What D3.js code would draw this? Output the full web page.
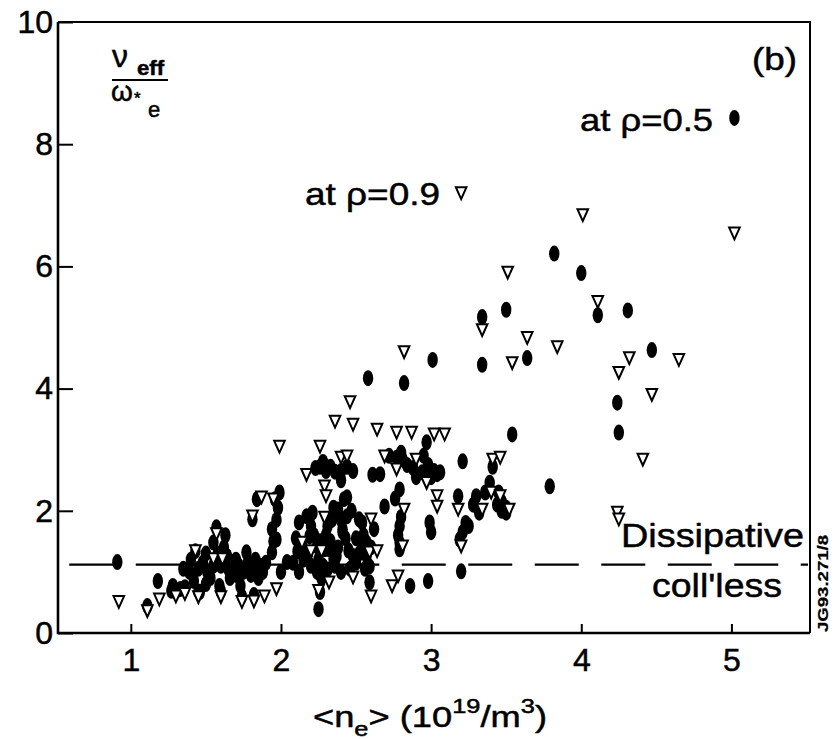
<!DOCTYPE html>
<html><head><meta charset="utf-8">
<script src="https://cdn.jsdelivr.net/npm/d3@7"></script>
<style>
body{margin:0;background:#fff}
text{font-family:"Liberation Sans",Arial,Helvetica,sans-serif;fill:#000;stroke:#000;stroke-width:0.5px}
</style>
</head><body>
<svg id="c" width="834" height="739"></svg>
<script>
// ---- data ----
const xTicks = [1, 2, 3, 4, 5];
const yTicks = [0, 2, 4, 6, 8, 10];
const xDomain = [0.515, 5.51];
const yDomain = [0, 10];
const boundaryLevel = 1.12;          // dissipative / coll'less boundary
const boundaryRange = [0.59, 5.51];

// filled dots: evaluated at rho = 0.5
const rho05 = [
[0.91,1.16],[1.11,0.44],[1.18,0.85],[1.27,0.69],[1.28,0.77],[1.33,0.72],[1.39,1.0],[1.43,1.34],
[1.46,0.67],[1.51,1.0],[1.55,1.48],[1.57,1.73],[1.59,0.77],[1.64,1.26],[1.68,1.04],[1.73,0.77],
[1.77,1.32],[1.81,1.09],[1.81,1.86],[1.84,2.19],[1.88,1.0],[1.94,1.70],[1.94,1.32],[1.96,2.19],
[1.97,1.53],[1.99,2.30],[2.04,1.16],[2.11,1.34],[2.12,1.81],[2.12,1.0],[2.17,1.91],[2.19,1.58],
[2.21,1.97],[2.24,1.42],[2.24,1.0],[2.25,0.39],[2.26,0.67],[2.26,2.72],[2.29,1.37],[2.31,1.75],
[2.31,1.04],[2.32,1.37],[2.35,1.21],[2.36,2.64],[2.37,1.26],[2.38,2.02],[2.41,1.65],[2.41,1.70],
[2.42,2.19],[2.44,2.72],[2.44,2.22],[2.44,1.91],[2.48,1.26],[2.52,1.86],[2.54,1.42],[2.54,1.81],
[2.57,1.48],[2.57,1.26],[2.58,4.17],[2.59,0.83],[2.59,1.09],[2.61,2.59],[2.69,2.07],[2.77,2.87],
[2.79,2.35],[2.79,1.75],[2.79,1.48],[2.79,1.37],[2.81,2.84],[2.82,4.09],[2.86,0.77],[2.94,2.63],
[2.97,3.12],[2.98,0.85],[2.99,1.81],[3.0,1.65],[3.01,4.47],[3.06,2.63],[3.18,2.24],[3.19,1.53],
[3.2,1.01],[3.21,2.81],[3.21,1.65],[3.3,2.24],[3.32,1.97],[3.34,5.17],[3.34,4.39],[3.39,2.46],
[3.41,2.72],[3.48,2.07],[3.5,5.29],[3.5,1.97],[3.54,3.25],[3.64,4.5],[3.79,2.40],[3.82,6.21],
[4.0,5.89],[4.11,5.2],[4.24,3.77],[4.25,3.28],[4.31,5.28],[4.47,4.63],[5.02,8.43],
[1.35,1.05],[1.42,0.85],[1.48,1.15],[1.53,0.9],[1.6,1.1],[1.66,0.9],[1.7,1.2],[1.75,1.0],
[1.5,1.3],[1.62,1.4],[1.85,0.9],[1.9,1.15],[2.0,1.0],[2.08,1.15],[2.15,1.2],[2.2,1.1],
[2.27,0.9],[2.3,1.6],[2.35,2.05],[2.4,1.0],[2.46,1.05],[2.5,1.55],[2.62,1.7],[2.66,2.6],
[2.48,2.65],[2.4,2.5],[2.3,2.65],[2.72,2.9],[2.9,2.55],[2.95,2.9],[3.0,2.55],[3.36,2.3],
[3.44,2.1],[3.47,2.0],
[1.40,1.2],[1.45,1.05],[1.50,0.8],[1.55,1.1],[1.58,1.3],[1.63,1.6],[1.65,1.05],[1.70,0.95],
[1.72,1.1],[1.78,1.15],[1.80,0.95],[1.83,1.2],[1.86,1.1],[1.95,1.5],[1.97,1.85],[1.98,2.05],
[2.10,1.55],[2.14,1.45],[2.18,1.3],[2.20,1.75],[2.22,1.6],[2.25,1.2],[2.26,1.5],[2.28,1.1],
[2.33,1.5],[2.34,1.85],[2.36,1.1],[2.38,1.4],[2.40,1.85],[2.43,1.55],[2.45,1.35],[2.47,2.0],
[2.50,1.15],[2.52,1.3],[2.55,1.6],[2.56,1.05],[2.60,1.4],[2.23,2.7],[2.28,2.8],[2.33,2.72],
[2.40,2.65],[2.80,2.95],[2.84,2.75],[2.88,2.7],[2.98,2.75],[3.02,2.65],[3.04,2.6],[2.76,2.2],
[2.78,1.6],[2.80,1.9],[3.23,1.8],[3.25,1.75],[3.28,2.1],[3.45,2.3],[3.47,2.15],[3.50,2.05],
[1.30,0.68],[1.45,0.68],[1.60,0.68],[1.74,0.6],[1.82,0.62],[1.36,0.75]
];

// open triangles: evaluated at rho = 0.9
const rho09 = [
[0.92,0.51],[1.11,0.36],[1.19,0.55],[1.30,0.60],[1.36,0.64],[1.43,1.34],[1.45,0.59],[1.55,1.21],
[1.57,1.62],[1.6,0.59],[1.61,1.21],[1.74,0.51],[1.81,1.91],[1.82,0.52],[1.87,2.22],[1.89,0.60],
[1.95,2.19],[1.97,0.72],[1.99,3.05],[2.14,1.48],[2.17,2.59],[2.2,1.34],[2.25,0.69],[2.26,3.05],
[2.27,1.34],[2.29,2.40],[2.29,1.89],[2.3,2.24],[2.32,0.83],[2.36,3.46],[2.4,2.87],[2.44,2.89],
[2.46,3.78],[2.48,3.41],[2.48,0.91],[2.59,1.32],[2.6,1.86],[2.6,0.60],[2.64,3.33],[2.64,1.34],
[2.69,2.89],[2.74,0.77],[2.77,3.28],[2.77,2.68],[2.78,0.93],[2.81,1.42],[2.82,4.6],[2.82,2.02],
[2.87,3.28],[2.9,2.84],[2.97,2.46],[3.02,3.25],[3.04,2.24],[3.04,2.07],[3.09,3.25],[3.18,2.02],
[3.2,1.42],[3.2,7.2],[3.34,4.96],[3.34,2.02],[3.4,2.3],[3.41,2.84],[3.46,2.87],[3.46,2.24],
[3.51,5.9],[3.52,2.02],[3.54,4.42],[3.64,4.83],[3.84,4.68],[4.01,6.84],[4.11,5.42],[4.24,1.97],
[4.25,4.26],[4.25,1.86],[4.32,4.5],[4.41,2.84],[4.47,3.9],[4.65,4.47],[5.02,6.54]
];

// ---- drawing ----
const svg = d3.select("#c");
const L = 58, R = 810, T = 22, B = 633;
const x = d3.scaleLinear(xDomain, [L, 808]);
const y = d3.scaleLinear(yDomain, [B, T]);

// frame
svg.append("path").attr("d", `M${L},${T}L${R},${T}L${R},${B}`)
  .attr("fill","none").attr("stroke","#000").attr("stroke-width",2);
svg.append("path").attr("d", `M${L},${T}L${L},${B}L${R},${B}`)
  .attr("fill","none").attr("stroke","#000").attr("stroke-width",2.6);

// axes
const gx = svg.append("g").attr("transform",`translate(0,${B})`)
  .call(d3.axisBottom(x).tickValues(xTicks).tickSizeInner(-9).tickSizeOuter(0)
        .tickPadding(15).tickFormat(d3.format("d")));
gx.select(".domain").remove();
gx.selectAll("line").attr("stroke-width",2);
gx.selectAll("text").attr("font-size",32).attr("font-family","Liberation Sans, Arial, sans-serif");

const gy = svg.append("g").attr("transform",`translate(${L},0)`)
  .call(d3.axisLeft(y).tickValues(yTicks).tickSizeInner(-15).tickSizeOuter(0)
        .tickPadding(5).tickFormat(d3.format("d")));
gy.select(".domain").remove();
gy.selectAll("line").attr("stroke-width",2);
gy.selectAll("text").attr("font-size",32).attr("font-family","Liberation Sans, Arial, sans-serif");

// boundary dashed line
svg.append("path")
  .attr("d", d3.line()([[x(boundaryRange[0]), y(boundaryLevel)],[x(boundaryRange[1]), y(boundaryLevel)]]))
  .attr("stroke","#000").attr("stroke-width",2.2).attr("stroke-dasharray","44,22.5").attr("fill","none");

// rho = 0.5 dots
svg.append("g").selectAll("ellipse").data(rho05).join("ellipse")
  .attr("cx", d => x(d[0])).attr("cy", d => y(d[1]))
  .attr("rx", 5.2).attr("ry", 8).attr("fill","#000");

// rho = 0.9 triangles
svg.append("g").selectAll("path").data(rho09).join("path")
  .attr("transform", d => `translate(${x(d[0])},${y(d[1])})`)
  .attr("d","M-5.3,-5.8L5.3,-5.8L0,6Z")
  .attr("fill","#fff").attr("stroke","#000").attr("stroke-width",2).attr("stroke-linejoin","miter");

// annotations
function txt(t, px, py, size, len, weight){
  const e = svg.append("text").attr("x",px).attr("y",py).attr("font-size",size).text(t);
  if (len) e.attr("textLength",len).attr("lengthAdjust","spacingAndGlyphs");
  if (weight) e.attr("font-weight",weight);
  return e;
}
txt("(b)", 752, 70, 32, 45);
txt("at ρ=0.5", 580, 131, 32, 133);
txt("at ρ=0.9", 305, 205, 32, 135);
txt("Dissipative", 621, 547, 34, 183);
txt("coll'less", 652, 597, 34, 130);

// y label fraction
txt("ν", 112, 67, 32);
txt("eff", 137, 75, 20, 27, "bold");
svg.append("line").attr("x1",112).attr("x2",168).attr("y1",80).attr("y2",80)
  .attr("stroke","#000").attr("stroke-width",1.8);
txt("ω", 111, 101, 28);
txt("*", 134, 104, 17);
txt("e", 148, 117, 22);

// x title
const xt = svg.append("text").attr("x",313).attr("y",727).attr("font-size",30);
xt.append("tspan").text("<n");
xt.append("tspan").attr("dy",9).attr("font-size",21).text("e");
xt.append("tspan").attr("dy",-9).text("> (10");
xt.append("tspan").attr("dy",-14).attr("font-size",21).text("19");
xt.append("tspan").attr("dy",14).text("/m");
xt.append("tspan").attr("dy",-14).attr("font-size",21).text("3");
xt.append("tspan").attr("dy",14).text(")");
xt.attr("textLength",234).attr("lengthAdjust","spacingAndGlyphs");

// figure id
svg.append("text").attr("transform","translate(828,632) rotate(-90)")
  .attr("font-size",14).attr("font-weight","bold").style("stroke-width","0.2px")
  .attr("textLength",97).attr("lengthAdjust","spacingAndGlyphs").text("JG93.271/8");
</script>
</body></html>
